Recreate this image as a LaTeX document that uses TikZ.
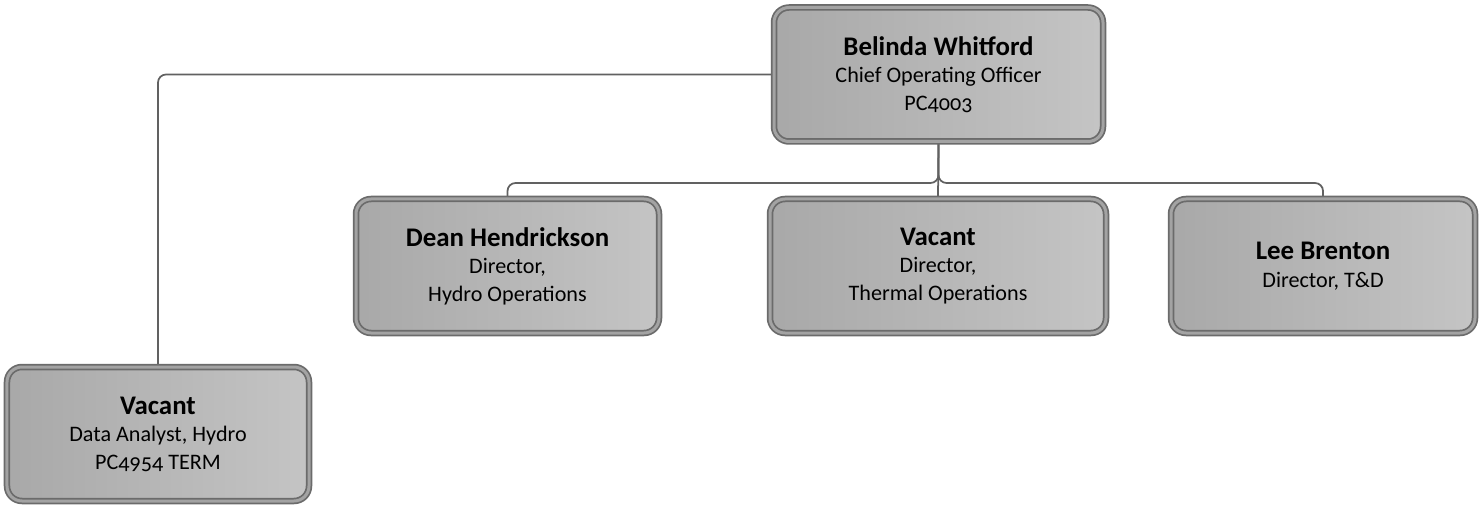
\documentclass[tikz,border=0pt]{standalone}
\usepackage{fontspec}
\setmainfont[Numbers=OldStyle]{Carlito}
\usepackage{tikz}
\usetikzlibrary{calc,backgrounds}

\tikzset{
  orgbox/.style={rectangle, rounded corners=3mm, align=center,
    minimum width=#1, minimum height=26.8mm, inner sep=0pt,
    draw=black!58, line width=0.35mm, double=black!36, double distance=0.6mm,
    left color=black!34, right color=black!23,
    font=\fontsize{12.6}{15.6}\selectfont},
  orgbox/.default=60.6mm,
  orgline/.style={draw=black!62, line width=0.35mm, rounded corners=1.6mm}
}
\newcommand{\orgname}[1]{{\fontsize{15.3}{15.6}\selectfont\bfseries #1}}

\begin{document}
\begin{tikzpicture}[x=0.2mm, y=-0.2mm]
\useasboundingbox (0,0) rectangle (1480,506);
% boxes
\node[orgbox=65.8mm] (coo) at (938.5,74.5) {\orgname{Belinda Whitford}\\Chief Operating Officer\\PC4003};
\node[orgbox=60.6mm] (hydro) at (507.5,266) {\orgname{Dean Hendrickson}\\Director,\\Hydro Operations};
\node[orgbox=67.2mm] (thermal) at (938,266) {\orgname{Vacant}\\Director,\\Thermal Operations};
\node[orgbox=60.8mm] (td) at (1323,266) {\orgname{Lee Brenton}\\Director, T\&D};
\node[orgbox=60.4mm] (analyst) at (158,434) {\orgname{Vacant}\\Data Analyst, Hydro\\PC4954 TERM};
% connectors
\coordinate (bus) at (938,183);
\begin{scope}[on background layer]
\draw[orgline] (coo.south) -- (thermal.north);
\draw[orgline] (coo.south) |- (hydro.north |- bus) -- (hydro.north);
\draw[orgline] (coo.south) |- (td.north |- bus) -- (td.north);
\draw[orgline] (coo.west) -| (analyst.north);
\end{scope}
\end{tikzpicture}
\end{document}
